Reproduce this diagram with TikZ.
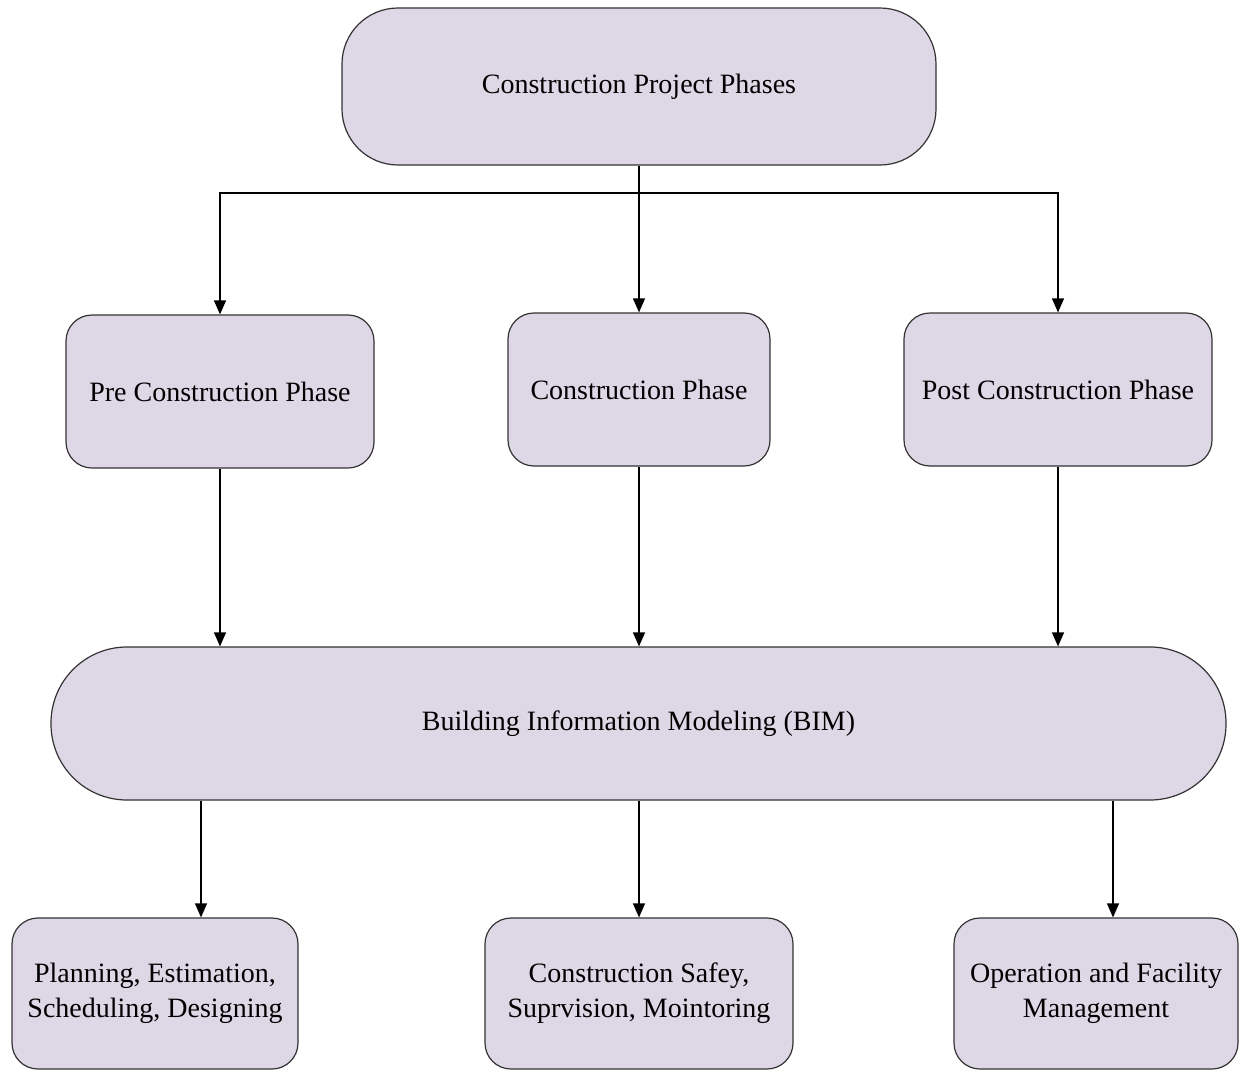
\documentclass[tikz,border=0pt]{standalone}
\usepackage{fontspec}
\setmainfont{Liberation Serif}
\usetikzlibrary{arrows.meta}
\definecolor{phasefill}{RGB}{221,215,230}
\tikzset{
  phasebox/.style={draw=black!80, line width=1.2pt, fill=phasefill, rounded corners=26pt,
    align=center, inner sep=0pt, font=\fontsize{28}{35}\selectfont},
  link/.style={line width=1.2pt, -{Triangle[length=14pt,width=12pt]}},
}
\begin{document}
\begin{tikzpicture}[x=1pt,y=-1pt]
\useasboundingbox (0,0) rectangle (1239,1070);

%Rounded Rect top
\node[phasebox, rounded corners=56pt, minimum width=594pt, minimum height=157pt] (phases) at (639,86.5) {Construction Project Phases};
%Rounded Rect row 1
\node[phasebox, minimum width=308pt, minimum height=153pt] (pre) at (220,391.5) {Pre Construction Phase};
\node[phasebox, minimum width=262pt, minimum height=153pt] (constr) at (639,389.5) {Construction Phase};
\node[phasebox, minimum width=308pt, minimum height=153pt] (post) at (1058,389.5) {Post Construction Phase};
%Rounded Rect BIM
\node[phasebox, rounded corners=76pt, minimum width=1175pt, minimum height=153pt] (bim) at (638.5,723.5) {Building Information Modeling (BIM)};
%Rounded Rect row 2
\node[phasebox, minimum width=286pt, minimum height=151pt] (plan) at (155,993.5) {Planning, Estimation,\\Scheduling, Designing};
\node[phasebox, minimum width=308pt, minimum height=151pt] (safety) at (639,993.5) {Construction Safey,\\Suprvision, Mointoring};
\node[phasebox, minimum width=284pt, minimum height=151pt] (facility) at (1096,993.5) {Operation and Facility\\Management};

% Connection top to phases
\coordinate (hub) at (phases.south |- 0,193);
\draw[line width=1.2pt] (phases.south) -- (hub);
\draw[link] (hub) -| (pre.north);
\draw[link] (hub) -- (constr.north);
\draw[link] (hub) -| (post.north);
% Connection phases to BIM
\draw[link] (pre.south) -- (pre.south |- bim.north);
\draw[link] (constr.south) -- (constr.south |- bim.north);
\draw[link] (post.south) -- (post.south |- bim.north);
% Connection BIM to uses
\coordinate (pa) at ([xshift=46pt]plan.north);
\coordinate (fa) at ([xshift=17pt]facility.north);
\draw[link] (pa |- bim.south) -- (pa);
\draw[link] (safety.north |- bim.south) -- (safety.north);
\draw[link] (fa |- bim.south) -- (fa);
\end{tikzpicture}
\end{document}
